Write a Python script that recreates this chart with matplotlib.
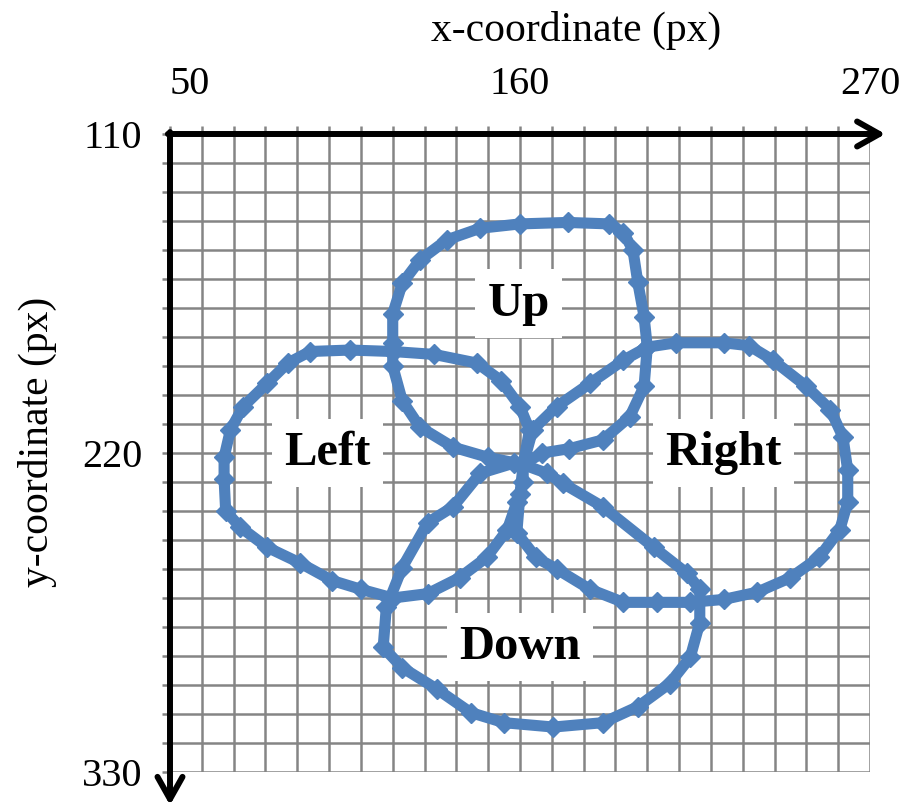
import numpy as np
import matplotlib.pyplot as plt

plt.rcParams['font.family'] = ['Liberation Serif', 'DejaVu Serif']

# traced cursor paths (screen px), one loop per gesture, each starting/ending at the centre
up_x = [161, 150, 139, 128.5, 123, 120, 120, 120, 123, 128.5, 137, 147.5, 160, 175, 188,
        192.5, 195.5, 197, 199, 200, 199, 194.5, 186, 175.5, 167, 161]
up_y = [224, 221.5, 218, 211, 202, 190, 182, 172, 161.5, 153.5, 146.5, 142.5, 141, 140.5, 141,
        144, 150, 161, 173, 183.5, 197, 207.5, 215.5, 218.5, 220, 224]

left_x = [161, 163, 160, 154, 146.5, 133, 120, 106.5, 94, 87, 80.5, 73, 69, 67, 67, 67.5,
          72, 80.5, 91, 101, 110, 120, 131, 141, 149.5, 156, 159, 161, 161]
left_y = [224, 212, 204, 195, 189, 186, 185, 184.5, 185, 189, 196, 204, 212, 221.5, 229, 240,
          245.5, 252.5, 258, 264, 267, 270, 268.5, 263, 256, 246.5, 237, 230, 224]

right_x = [161, 164, 171.5, 182, 192.5, 200, 209, 224, 232, 239.5, 250, 257.5, 261.5, 263, 263,
           260.5, 254, 245, 234.5, 224, 213.5, 203, 192.5, 182, 171.5, 165, 159, 160, 161]
right_y = [224, 212, 204, 196, 188, 183.5, 182, 182, 183, 188, 197, 205, 214.5, 226, 237,
           246.5, 256, 263, 268, 270.5, 271.5, 271.5, 271.5, 267, 260, 256, 247.5, 234, 224]

down_x = [161, 168.5, 173.5, 186, 202, 212.5, 216.5, 216.5, 213.5, 207, 197, 186, 170.5, 155,
          144.5, 134, 123, 117, 118, 119, 123, 131, 139, 147.5, 158, 161]
down_y = [224, 227, 230.5, 238.5, 252.5, 261.5, 267, 278.5, 290.5, 299.5, 307.5, 313, 314.5, 313,
          309.5, 301.5, 294, 287, 273, 270.5, 259.5, 244, 238.5, 227, 223.5, 224]

gesture_names = ['Up', 'Left', 'Right', 'Down']
name_x = [159.5, 99.5, 224, 160]
name_y = [168.5, 220, 220, 287]

x_labels = [50, 160, 270]
y_labels = [110, 220, 330]

blue = '#4F81BD'
grey = '#858585'

fig = plt.figure(figsize=(9.08, 8.09), dpi=100)
ax = fig.add_axes([170 / 908, 37 / 809, 700 / 908, 638 / 809])

for xs, ys in [(up_x, up_y), (left_x, left_y), (right_x, right_y), (down_x, down_y)]:
    ax.plot(xs, ys, color=blue, lw=8, marker='D', ms=10, mec=blue, mfc=blue,
            solid_joinstyle='round', solid_capstyle='round', zorder=3)

for name, tx, ty in zip(gesture_names, name_x, name_y):
    ax.text(tx, ty, name, fontsize=35, fontweight='bold', ha='center', va='center',
            zorder=2.5, bbox=dict(boxstyle='square,pad=0.25', fc='white', ec='none'))

ax.set_xlim(50, 270)
ax.set_ylim(330, 110)

xt = np.arange(50, 271, 10)
yt = np.arange(110, 331, 10)
ax.set_xticks(xt, [str(v) if v in x_labels else '' for v in xt])
ax.set_yticks(yt, [str(v) if v in y_labels else '' for v in yt])
ax.xaxis.tick_top()
ax.tick_params(axis='both', length=6, width=1.8, color=grey, labelsize=29, pad=14)
ax.tick_params(axis='x', pad=16)
for lab in ax.get_xticklabels():
    if lab.get_text() == '50':
        lab.set_ha('left')

ax.grid(True, color=grey, lw=1.8, zorder=1)
ax.set_axisbelow(True)
for sp in ax.spines.values():
    sp.set_visible(False)

# axis arrows along the top and left edges
arrow = dict(arrowstyle='->,head_length=0.8,head_width=0.45', lw=4.3, color='black',
             mutation_scale=20, shrinkA=0, shrinkB=0)
ax.annotate('', xy=(1.022, 1), xytext=(-0.003, 1), xycoords='axes fraction',
            arrowprops=arrow, annotation_clip=False)
ax.annotate('', xy=(0, -0.052), xytext=(0, 1.003), xycoords='axes fraction',
            arrowprops=arrow, annotation_clip=False)

fig.text(576 / 908, 1 - 30 / 809, 'x-coordinate (px)', fontsize=30, ha='center', va='center')
fig.text(37 / 908, 1 - 442 / 809, 'y-coordinate (px)', fontsize=30, ha='center', va='center',
         rotation=90)

fig.savefig('out.png', dpi=100, facecolor='white')
